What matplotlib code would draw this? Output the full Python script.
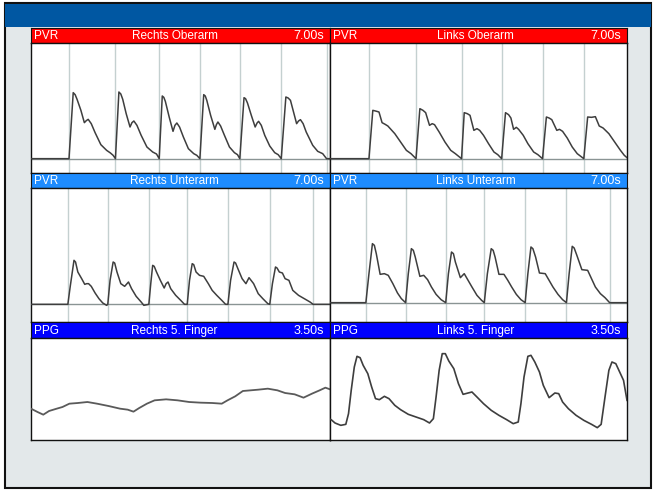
import matplotlib
matplotlib.use("Agg")
import matplotlib.pyplot as plt
from matplotlib.patches import Rectangle

plt.rcParams['font.family'] = ['Liberation Sans', 'DejaVu Sans']

# ---- data (x: samples over the sweep, y: amplitude, arbitrary units) ----
# Rechts Oberarm (PVR, 7.00 s)
ro_x = [0, 99, 110, 115, 120, 130, 139, 144, 149, 157, 167, 182, 197, 207, 214, 220,
        229, 234, 239, 248, 258, 263, 268, 276, 287, 302, 317, 327, 334,
        342, 346, 350, 360, 370, 375, 380, 387, 397, 410, 424, 432, 440,
        450, 454, 458, 468, 479, 483, 487, 494, 504, 517, 530, 538, 544,
        555, 559, 564, 574, 584, 589, 593, 600, 609, 622, 635, 644, 652,
        664, 670, 676, 684, 692, 697, 702, 709, 717, 734, 747, 760, 770, 779]
ro_y = [0, 0, 198, 192, 178, 145, 108, 114, 118, 105, 78, 42, 25, 17, 10, 0,
        200, 194, 178, 135, 95, 108, 113, 100, 70, 35, 20, 14, 0,
        188, 184, 172, 125, 82, 100, 107, 95, 65, 30, 15, 10, 0,
        192, 188, 175, 130, 88, 102, 110, 98, 70, 35, 18, 12, 0,
        183, 180, 167, 130, 95, 107, 112, 100, 70, 38, 18, 12, 0,
        185, 182, 175, 140, 105, 113, 117, 105, 80, 40, 22, 15, 0, 0]
ro_grid = [99, 220, 334, 440, 544, 652, 770]

# Links Oberarm (PVR, 7.00 s)
lo_x = [0, 101, 111, 118, 127, 135, 143, 150, 168, 183, 198, 210, 223,
        233, 241, 248, 258, 265, 271, 283, 298, 313, 325, 341,
        348, 356, 363, 373, 381, 388, 398, 411, 425, 435, 445,
        455, 463, 469, 476, 483, 489, 501, 513, 528, 539, 551,
        561, 568, 575, 588, 595, 603, 615, 628, 641, 658,
        668, 678, 688, 698, 708, 723, 738, 753, 763, 770]
lo_y = [0, 0, 145, 143, 140, 108, 103, 98, 75, 50, 25, 15, 0,
        150, 145, 138, 100, 105, 102, 80, 50, 25, 15, 0,
        138, 135, 130, 85, 90, 85, 70, 45, 20, 12, 0,
        138, 132, 122, 88, 94, 88, 70, 45, 20, 12, 0,
        125, 122, 117, 85, 88, 82, 62, 35, 15, 0,
        125, 124, 126, 98, 92, 75, 50, 25, 10, 3]
lo_grid = [101, 223, 341, 445, 551, 658]

# Rechts Unterarm (PVR, 7.00 s)
ru_x = [0, 96, 102, 112, 116, 122, 132, 140, 145, 150, 157, 167, 177, 187, 197, 200,
        206, 214, 218, 224, 234, 244, 254, 262, 274, 287, 294, 307,
        312, 317, 321, 327, 337, 347, 352, 357, 364, 377, 390, 400, 407,
        413, 420, 424, 430, 439, 450, 462, 472, 484, 497, 507, 513,
        520, 529, 533, 539, 550, 560, 568, 580, 592, 604, 617, 622,
        629, 637, 641, 647, 655, 662, 672, 682, 697, 712, 727, 735, 779]
ru_y = [0, 0, 52, 132, 127, 97, 77, 60, 62, 62, 54, 34, 17, 4, -3, 0,
        72, 127, 124, 97, 62, 54, 67, 47, 24, 7, -3, 0,
        62, 117, 114, 97, 72, 49, 62, 67, 47, 27, 12, 0, 0,
        72, 122, 119, 97, 87, 84, 62, 42, 27, 12, 0, 0,
        72, 127, 124, 107, 77, 62, 80, 62, 32, 17, 2, 0,
        62, 112, 109, 97, 94, 77, 72, 42, 27, 17, 7, 0, 0]
ru_grid = [96, 200, 307, 407, 513, 622, 735]

# Links Unterarm (PVR, 7.00 s)
lu_x = [0, 93, 101, 110, 115, 120, 130, 141, 151, 163, 175, 185, 196,
        203, 211, 216, 221, 233, 243, 253, 263, 275, 288, 300,
        307, 315, 320, 325, 338, 348, 358, 368, 381, 393, 400,
        408, 418, 423, 428, 438, 451, 461, 471, 483, 495, 506,
        513, 521, 526, 533, 543, 558, 568, 578, 591, 603, 613,
        620, 628, 633, 640, 653, 668, 678, 688, 701, 713, 725, 770]
lu_y = [0, 0, 87, 177, 172, 147, 85, 87, 82, 57, 29, 12, 0,
        87, 162, 157, 137, 79, 82, 69, 47, 25, 9, 0,
        87, 152, 147, 122, 75, 87, 67, 47, 22, 7, 0,
        87, 162, 157, 137, 85, 85, 67, 47, 25, 9, 0,
        87, 167, 162, 137, 89, 87, 67, 47, 25, 9, 0,
        87, 169, 164, 142, 99, 97, 72, 47, 27, 15, 0, 0]
lu_grid = [93, 196, 300, 400, 506, 613, 725]

# Rechts 5. Finger (PPG, 3.50 s)
rf_x = [0, 17, 32, 47, 67, 82, 100, 122, 147, 172, 202, 232, 252, 267, 282, 302, 322,
        352, 382, 412, 442, 472, 497, 512, 532, 552, 572, 592, 617, 642, 662,
        687, 710, 732, 752, 767, 779]
rf_y = [94, 84, 76, 87, 94, 99, 109, 111, 114, 109, 102, 94, 91, 85, 96, 109, 119,
        122, 119, 114, 112, 111, 109, 119, 131, 147, 149, 151, 154, 149, 141,
        137, 127, 139, 149, 157, 152]

# Links 5. Finger (PPG, 3.50 s)
lf_x = [0, 3, 13, 28, 41, 48, 55, 63, 70, 78, 86, 98, 108, 118, 128, 141, 153, 168,
        183, 203, 223, 243, 258, 268, 275, 283, 291, 299, 308, 321, 333, 345,
        358, 368, 381, 398, 418, 438, 458, 475, 488, 495, 503, 513, 521, 531,
        543, 553, 568, 583, 593, 603, 618, 638, 658, 678, 693, 703, 713, 723,
        731, 741, 751, 761, 770]
lf_y = [62, 61, 51, 44, 47, 79, 149, 219, 251, 247, 224, 199, 159, 124, 121, 131, 124, 104,
        91, 77, 69, 61, 51, 64, 129, 209, 259, 259, 237, 214, 169, 137,
        141, 144, 129, 109, 89, 74, 61, 49, 54, 109, 189, 251, 254, 234,
        204, 164, 127, 141, 139, 114, 94, 74, 59, 47, 37, 47, 129, 209,
        234, 229, 204, 179, 119]

# ---- layout helpers (pixel boxes of the 653x490 reference) ----
W, H = 653, 490
fig = plt.figure(figsize=(W / 100, H / 100), dpi=100)
fig.patch.set_facecolor('white')


def box(x0, y0, x1, y1):
    return [x0 / W, 1 - y1 / H, (x1 - x0) / W, (y1 - y0) / H]


frame = fig.add_axes([0, 0, 1, 1])
frame.set_xlim(0, W)
frame.set_ylim(H, 0)
frame.axis('off')
frame.add_patch(Rectangle((5, 3), 646, 485, facecolor='#e3e8ea', edgecolor='#111111', lw=1.5))
frame.add_patch(Rectangle((5, 4), 646, 23, facecolor='#0057a2', edgecolor='none'))

GRID = '#c4d0d0'
BASE = '#8a9494'
TRACE = '#3e3e3e'

cols = [(31, 330), (330, 627)]
rows = [(28, 43, 173), (173, 188, 322), (322, 338, 440)]
head_colors = ['#ff0000', '#1e8cff', '#0000ff']
title_pos = [0.48, 0.49]

panels = [
    [('PVR', 'Rechts Oberarm', '7.00s', ro_x, ro_y, ro_grid, 779, (-43, 347)),
     ('PVR', 'Links Oberarm', '7.00s', lo_x, lo_y, lo_grid, 770, (-43, 347))],
    [('PVR', 'Rechts Unterarm', '7.00s', ru_x, ru_y, ru_grid, 779, (-53, 349)),
     ('PVR', 'Links Unterarm', '7.00s', lu_x, lu_y, lu_grid, 770, (-58, 344))],
    [('PPG', 'Rechts 5. Finger', '3.50s', rf_x, rf_y, None, 779, (0, 306)),
     ('PPG', 'Links 5. Finger', '3.50s', lf_x, lf_y, None, 770, (0, 306))],
]

for r, (ytop, ymid, ybot) in enumerate(rows):
    for c, (x0, x1) in enumerate(cols):
        kind, title, sweep, xs, ys, grid, n, ylim = panels[r][c]

        hax = fig.add_axes(box(x0, ytop, x1, ymid))
        hax.set_facecolor(head_colors[r])
        hax.set_xticks([])
        hax.set_yticks([])
        for s in hax.spines.values():
            s.set_color('#111111')
            s.set_linewidth(0.8)
        hax.text(0.01, 0.45, kind, color='white', fontsize=8.5, ha='left', va='center',
                 transform=hax.transAxes)
        hax.text(title_pos[c], 0.45, title, color='white', fontsize=8.5, ha='center',
                 va='center', transform=hax.transAxes)
        hax.text(0.98, 0.45, sweep, color='white', fontsize=9, ha='right', va='center',
                 transform=hax.transAxes)

        ax = fig.add_axes(box(x0, ymid, x1, ybot))
        ax.set_facecolor('white')
        ax.set_xlim(0, n)
        ax.set_ylim(*ylim)
        ax.set_xticks([])
        ax.set_yticks([])
        for s in ax.spines.values():
            s.set_color('#111111')
            s.set_linewidth(1.0)
        if grid is not None:
            for g in grid:
                ax.axvline(g, color=GRID, lw=1.0, zorder=1)
            ax.axhline(0, color=BASE, lw=1.0, zorder=2)
            ax.plot(xs, ys, color=TRACE, lw=1.1, zorder=3)
        else:
            ax.plot(xs, ys, color=TRACE if c == 1 else '#5a5a5a',
                    lw=1.2 if c == 1 else 1.3, zorder=3)

fig.savefig('out.png', dpi=100)
